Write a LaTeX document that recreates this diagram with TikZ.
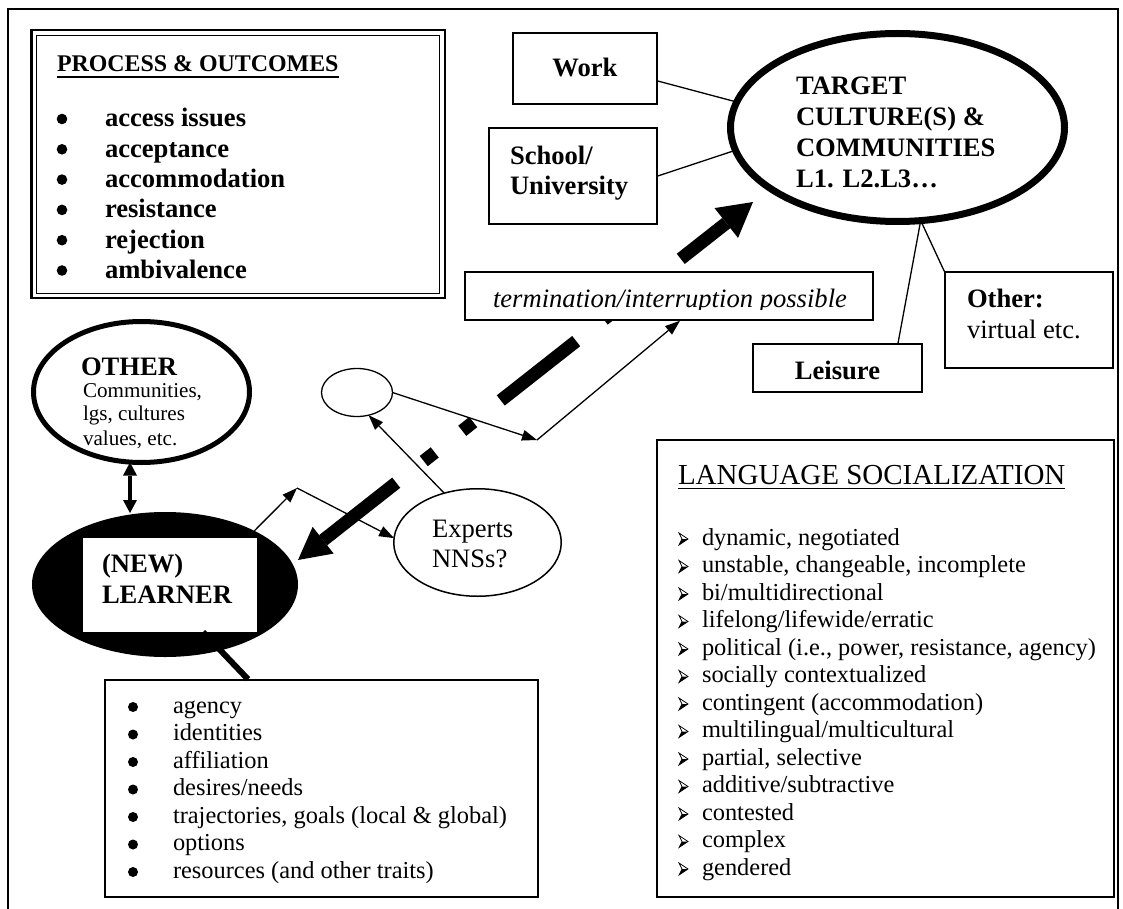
\documentclass[tikz,border=0pt]{standalone}
\usepackage{fontspec}
\setmainfont{Liberation Serif}
\usetikzlibrary{arrows.meta,shapes.geometric,calc}

\tikzset{
  tight/.style={inner sep=0pt, outer sep=0pt},
  txtrm/.style={tight, font=\fontsize{26.6}{30}\selectfont},
  txtbf/.style={tight, font=\fontsize{26.6}{30}\selectfont\bfseries},
  txtit/.style={tight, font=\fontsize{26.6}{30}\selectfont\itshape},
  txtsm/.style={tight, font=\fontsize{24.4}{27.5}\selectfont},
  txtxs/.style={tight, font=\fontsize{21.1}{24}\selectfont},
  txtttl/.style={tight, font=\fontsize{23.9}{27}\selectfont\bfseries},
  txtlang/.style={tight, font=\fontsize{29}{32}\selectfont},
  boxst/.style={draw, line width=1.5pt, fill=white, rectangle, inner sep=0pt},
  conn/.style={line width=1.3pt},
  thinarr/.style={line width=1.3pt, -{Triangle[length=15pt,width=11pt,line width=0pt]}},
  dblarr/.style={line width=3.5pt,
    {Triangle[length=13pt,width=14pt,line width=0pt]}-{Triangle[length=13pt,width=14pt,line width=0pt]}},
  bigdash/.style={line width=13pt, line cap=butt,
    dash pattern=on 96pt off 35pt on 14pt off 35pt on 14pt off 35pt, dash phase=3pt,
    {Triangle[length=32pt,width=34pt,line width=0pt]}-{Triangle[length=34pt,width=38pt,line width=0pt]}},
  arrbul/.pic={
    \filldraw[fill=white, line width=0.7pt] (0,-6) -- (9,0) -- (0,6) -- (3,0) -- cycle;
    \fill (3,0) -- (9,0) -- (0,6) -- cycle;
  }
}

\begin{document}
\begin{tikzpicture}[x=1pt,y=-1pt]
\useasboundingbox (0,0) rectangle (1123,909);
\fill[white] (0,0) rectangle (1123,909);

% outer frame
\draw[line width=1.5pt] (8,9) rectangle (1118,930);

% ---- process & outcomes panel (thick-thin border) ----
\node[draw, line width=2.5pt, fill=white,
      minimum width=413.5pt, minimum height=267.5pt, tight, anchor=north west] (proc) at (31.25,30.25) {};
\draw[line width=1.2pt] ($(proc.north west)+(5.25,5.25)$) rectangle ($(proc.south east)+(-5.25,-4.25)$);
\node[txtttl, anchor=base west] (procTitle) at (57,72) {PROCESS \& OUTCOMES};
\draw[line width=1.6pt] ([yshift=-5pt]procTitle.base west) -- ([yshift=-5pt]procTitle.base east);
\foreach \t [count=\i from 0] in {access issues, acceptance, accommodation, resistance, rejection, ambivalence} {
  \node[txtbf, anchor=base west] (po\i) at (105,127+30.3*\i) {\t};
  \fill (62,119+30.3*\i) circle[radius=5.3pt];
}

% ---- target culture and its settings ----
\node[ellipse, draw, line width=7pt, fill=white, minimum width=334pt, minimum height=188pt, tight] (target) at (897.5,127.5) {};
\foreach \t [count=\i from 0] in {TARGET, CULTURE(S) \&, COMMUNITIES, L1. L2.L3…} {
  \node[txtbf, anchor=base west] (tg\i) at (796,95+31*\i) {\t};
}
\node[boxst, minimum width=144pt, minimum height=71pt] (work) at (585,68.5) {};
\node[txtbf, anchor=base] (workTxt) at (585,77) {Work};
\node[boxst, minimum width=168pt, minimum height=96pt] (school) at (573,176) {};
\node[txtbf, anchor=base west] (schoolTxtA) at (510,165) {School/};
\node[txtbf, anchor=base west] (schoolTxtB) at (510,195) {University};
\node[boxst, minimum width=169pt, minimum height=48pt] (leisure) at (837.5,368) {};
\node[txtbf, anchor=base] (leisureTxt) at (837.5,379) {Leisure};
\node[boxst, minimum width=168pt, minimum height=96pt] (otherbox) at (1029,320) {};
\node[txtbf, anchor=base west] (otherTxtA) at (967,307) {Other:};
\node[txtrm, anchor=base west] (otherTxtB) at (967,338) {virtual etc.};

\draw[conn] ([yshift=-12.5pt]work.east) -- (target.171);
\draw[conn] (school.east) -- (target.188);
\draw[conn] (target.-76) -- ([xshift=60.5pt]leisure.north);
\draw[conn] (target.-76) -- (otherbox.north west);

% ---- other communities ----
\node[ellipse, draw, line width=5pt, fill=white, minimum width=216pt, minimum height=141pt, tight] (other) at (141.5,392) {};
\node[txtbf, anchor=base west] (otherHead) at (81,375) {OTHER};
\node[txtxs, anchor=base west] (otherL1) at (83,397) {Communities,};
\node[txtxs, anchor=base west] (otherL2) at (83,420) {lgs, cultures};
\node[txtxs, anchor=base west] (otherL3) at (83,445) {values, etc.};

% ---- the learner ----
\node[ellipse, fill=black, minimum width=266pt, minimum height=145pt, tight] (learner) at (165,584.5) {};
\node[draw, fill=white, line width=0.8pt, minimum width=175pt, minimum height=95pt, tight] (lbox) at (169.5,584.5) {};
\node[txtbf, anchor=base west] (newTxt) at (102,572) {(NEW)};
\node[txtbf, anchor=base west] (learnerTxt) at (102,603) {LEARNER};

\draw[dblarr] ($(other.south)+(-11.5,0)$) -- ($(learner.north)+(-35,1)$);

% ---- experts and the intermediate community ----
\node[ellipse, draw, line width=1.3pt, fill=white, minimum width=71pt, minimum height=48pt, tight] (hub) at (357,392.5) {};
\node[ellipse, draw, line width=1.5pt, fill=white, minimum width=167.5pt, minimum height=107.5pt, tight] (experts) at (477.5,542.5) {};
\node[txtrm, anchor=base west] (expTxtA) at (432,537) {Experts};
\node[txtrm, anchor=base west] (expTxtB) at (432,567) {NNSs?};

\coordinate (c1) at (537,440);
\coordinate (c2) at (297,488);
\draw[thinarr] (hub.east) -- (c1);
\draw[thinarr] (experts.124) -- (hub.-63);
\draw[thinarr] (learner.31) -- (c2);
\draw[thinarr] (c2) -- (experts.177);

% ---- main trajectory: learner <-> target ----
\coordinate (T1) at (298,560);
\coordinate (T2) at (753,202);
\draw[bigdash] (T1) -- (T2);

\node[boxst, minimum width=408pt, minimum height=48pt] (term) at (669,296) {};
\begin{scope}
  \clip (466,273) rectangle (872,309);
  \node[txtit, anchor=base west] (termTxt) at (493,307) {termination/interruption possible};
\end{scope}
\draw[thinarr] (c1) -- ([xshift=11pt]term.south);

% ---- learner traits ----
\node[boxst, minimum width=433pt, minimum height=217pt] (traits) at (321.5,788.5) {};
\draw[line width=6pt] ([xshift=33.5pt]lbox.south) -- ([xshift=-73.5pt]traits.north);
\foreach \t [count=\i from 0] in {agency, identities, affiliation, desires/needs,
    {trajectories, goals (local \& global)}, options, resources (and other traits)} {
  \node[txtsm, anchor=base west] (tr\i) at (173,713+27.5*\i) {\t};
  \fill (133,707+27.5*\i) circle[radius=5pt];
}

% ---- language socialization ----
\node[boxst, minimum width=457pt, minimum height=457pt] (lang) at (885.5,668.5) {};
\node[txtlang, anchor=base west] (langTitle) at (678,484.5) {LANGUAGE SOCIALIZATION};
\draw[line width=1.3pt] ([yshift=-4pt]langTitle.base west) -- ([yshift=-4pt]langTitle.base east);
\foreach \t [count=\i from 0] in {{dynamic, negotiated}, {unstable, changeable, incomplete},
    bi/multidirectional, lifelong/lifewide/erratic, {political (i.e., power, resistance, agency)},
    socially contextualized, contingent (accommodation), multilingual/multicultural,
    {partial, selective}, additive/subtractive, contested, complex, gendered} {
  \node[txtsm, anchor=base west] (ls\i) at (702,545+27.5*\i) {\t};
  \pic at (679,539+27.5*\i) {arrbul};
}
\end{tikzpicture}
\end{document}
